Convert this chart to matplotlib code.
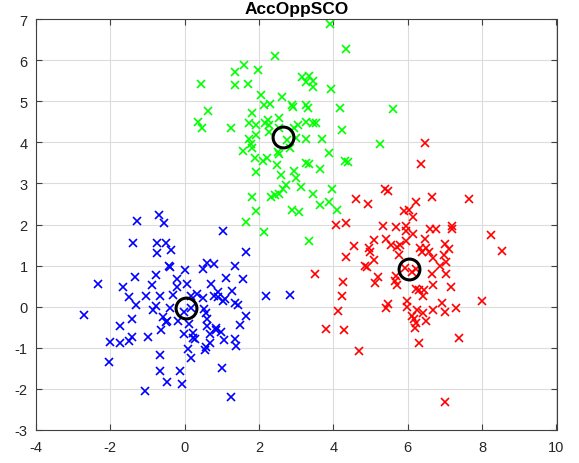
import numpy as np
import matplotlib
matplotlib.use("Agg")
import matplotlib.pyplot as plt

plt.rcParams['font.family'] = ['Liberation Sans', 'DejaVu Sans']
plt.rcParams['axes.unicode_minus'] = False

# cluster 1 (azul)
blue_x = [-0.70, -1.29, -0.56, 1.04, -1.39, -0.74, -0.51, -0.75, -0.36, 1.65,
          -0.42, -0.40, 0.01, 0.49, 0.61, 0.78, 1.36, -2.32, -1.33, -0.76,
          -0.20, 0.05, 1.11, 1.56, -1.65, -0.87, -0.22, 0.71, -1.49, -1.03,
          -0.66, -0.31, 0.32, 0.18, 0.48, 0.90, 0.79, 1.02, 1.09, 1.27,
          1.36, 1.44, -2.70, -1.31, -0.76, -0.85, -0.40, -0.59, -0.51, -0.47,
          -0.19, -0.03, 0.17, 0.52, 0.58, 0.59, 1.65, -1.42, -1.75, 0.12,
          1.49, -0.63, -0.98, -1.41, -1.49, -2.01, -1.75, -0.03, 0.21, 0.21,
          0.28, 0.59, 0.84, 0.67, 0.98, 1.07, 0.69, 1.34, 1.39, 0.09,
          0.54, 0.16, -0.67, -2.04, -0.66, -0.14, 1.00, -0.48, -0.06, -1.06,
          1.24, 0.56, 0.85, 0.89, 2.18, 2.83]
blue_y = [2.24, 2.09, 2.03, 1.85, 1.55, 1.55, 1.55, 1.30, 1.39, 1.33,
          0.98, 0.96, 0.90, 0.91, 1.07, 1.05, 0.98, 0.55, 0.73, 0.76,
          0.67, 0.56, 0.69, 0.67, 0.48, 0.54, 0.47, 0.56, 0.24, 0.27,
          0.25, 0.29, 0.32, 0.27, 0.20, 0.36, 0.27, 0.15, 0.18, 0.39,
          0.10, 0.03, -0.20, 0.03, 0.01, -0.09, -0.03, -0.24, -0.37, -0.35,
          -0.34, -0.14, -0.02, -0.06, -0.15, -0.31, -0.23, -0.30, -0.47, -0.41,
          -0.44, -0.57, -0.73, -0.73, -0.83, -0.87, -0.89, -0.66, -0.65, -0.77,
          -0.78, -0.46, -0.51, -0.67, -0.62, -0.82, -0.88, -0.78, -0.96, -1.03,
          -1.06, -1.24, -1.17, -1.35, -1.57, -1.57, -1.50, -1.84, -1.88, -2.06,
          -2.19, -0.99, -0.56, 0.23, 0.26, 0.28]

# cluster 2 (verde)
green_x = [3.91, 4.34, 2.43, 1.60, 1.36, 1.98, 0.45, 1.35, 1.69, 3.16,
           3.35, 3.26, 3.44, 3.44, 3.94, 2.06, 2.61, 2.12, 2.30, 2.88,
           2.91, 3.26, 3.31, 4.19, 0.63, 1.80, 0.37, 0.47, 1.24, 1.73,
           1.93, 2.16, 2.25, 2.27, 2.53, 2.54, 2.95, 3.04, 3.27, 3.44,
           3.53, 4.24, 1.93, 1.73, 2.27, 2.74, 2.98, 3.25, 3.69, 5.26,
           1.78, 1.56, 1.81, 2.83, 2.51, 2.54, 1.89, 2.20, 2.10, 3.89,
           2.49, 3.25, 3.35, 3.63, 4.31, 4.39, 1.92, 2.59, 2.94, 2.99,
           2.73, 2.65, 3.14, 3.97, 1.82, 2.31, 2.43, 2.54, 3.46, 3.65,
           3.88, 4.10, 1.92, 2.88, 3.08, 1.65, 2.13, 3.35, 5.59]
green_y = [6.88, 6.28, 6.10, 5.88, 5.71, 5.75, 5.42, 5.40, 5.43, 5.59,
           5.61, 5.47, 5.49, 5.34, 5.29, 5.16, 5.11, 4.90, 4.92, 4.91,
           4.87, 4.90, 4.84, 4.83, 4.76, 4.71, 4.50, 4.35, 4.35, 4.46,
           4.41, 4.48, 4.54, 4.42, 4.58, 4.34, 4.34, 4.41, 4.50, 4.48,
           4.48, 4.30, 4.18, 4.08, 4.25, 4.06, 4.11, 4.07, 4.09, 3.97,
           3.97, 3.78, 3.85, 3.85, 3.76, 3.71, 3.62, 3.63, 3.54, 3.75,
           3.44, 3.50, 3.46, 3.36, 3.55, 3.53, 3.27, 3.20, 3.29, 3.13,
           2.97, 2.87, 2.91, 2.87, 2.67, 2.66, 2.72, 2.73, 2.74, 2.47,
           2.54, 2.36, 2.32, 2.36, 2.30, 2.07, 1.82, 1.60, 4.80]

# cluster 3 (rojo)
red_x = [6.47, 6.36, 5.38, 5.48, 4.60, 4.94, 6.21, 6.64, 7.65, 5.90,
         6.04, 6.13, 4.08, 4.34, 5.33, 5.67, 5.94, 5.95, 6.15, 6.61,
         6.77, 7.18, 7.19, 8.25, 5.10, 5.42, 5.94, 6.45, 4.56, 4.96,
         5.56, 5.71, 5.80, 6.32, 6.48, 6.99, 7.11, 8.53, 4.35, 4.99,
         5.08, 5.77, 6.38, 6.57, 6.68, 6.97, 4.85, 4.91, 7.02, 6.86,
         3.50, 5.92, 6.12, 6.21, 5.21, 5.12, 5.67, 6.65, 7.04, 4.26,
         5.72, 5.65, 6.68, 7.17, 6.21, 6.31, 6.43, 6.40, 4.24, 7.99,
         5.97, 5.46, 5.42, 6.92, 4.13, 5.97, 6.26, 6.42, 6.67, 7.01,
         7.31, 6.11, 6.16, 6.21, 6.48, 6.19, 3.79, 4.28, 7.38, 6.30,
         4.68, 6.99]
red_y = [3.98, 3.48, 2.87, 2.82, 2.61, 2.49, 2.54, 2.66, 2.61, 2.34,
         2.36, 2.18, 1.98, 2.04, 1.96, 1.95, 1.96, 1.84, 1.76, 1.88,
         1.90, 1.96, 1.88, 1.74, 1.62, 1.65, 1.61, 1.64, 1.48, 1.43,
         1.50, 1.46, 1.49, 1.43, 1.44, 1.52, 1.40, 1.35, 1.22, 1.34,
         1.14, 1.25, 1.33, 1.32, 1.18, 1.26, 0.99, 0.97, 1.09, 0.99,
         0.80, 0.93, 0.85, 0.91, 0.73, 0.58, 0.75, 0.80, 0.80, 0.60,
         0.54, 0.63, 0.52, 0.48, 0.43, 0.40, 0.40, 0.27, 0.27, 0.15,
         0.14, 0.06, -0.02, 0.09, -0.10, 0.00, -0.08, -0.16, -0.08, -0.12,
         -0.04, -0.22, -0.30, -0.40, -0.36, -0.52, -0.54, -0.56, -0.75, -0.89,
         -1.07, -2.33]

# centroides
cent_x = [0.04, 2.64, 6.03]
cent_y = [-0.03, 4.13, 0.91]

fig = plt.figure(figsize=(5.79, 4.64), dpi=100)
ax = fig.add_axes([36/579, 1-431/464, (556.5-36)/579, (431-20)/464])

ax.plot(blue_x, blue_y, 'x', color='#0000ff', ms=6, mew=1.2, ls='none')
ax.plot(green_x, green_y, 'x', color='#00ff00', ms=6, mew=1.2, ls='none')
ax.plot(red_x, red_y, 'x', color='#ff0000', ms=6, mew=1.2, ls='none')
ax.plot(cent_x, cent_y, 'o', mfc='none', mec='black', ms=15, mew=2.2, ls='none')

ax.set_xlim(-4, 10)
ax.set_ylim(-3, 7)
ax.set_xticks(np.arange(-4, 11, 2))
ax.set_yticks(np.arange(-3, 8, 1))
ax.grid(True, color='#dcdcdc', lw=0.8)
ax.set_axisbelow(True)
for s in ax.spines.values():
    s.set_color('#404040')
    s.set_linewidth(0.8)
ax.tick_params(direction='in', length=4, width=0.8, colors='#404040',
               labelsize=10.5, labelcolor='#262626', top=True, right=True,
               labeltop=False, labelright=False)
ax.tick_params(axis='x', pad=7)
ax.tick_params(axis='y', pad=6)
ax.set_title('AccOppSCO', fontsize=12.5, fontweight='bold', pad=4.5)

fig.savefig('out.png', dpi=100)
